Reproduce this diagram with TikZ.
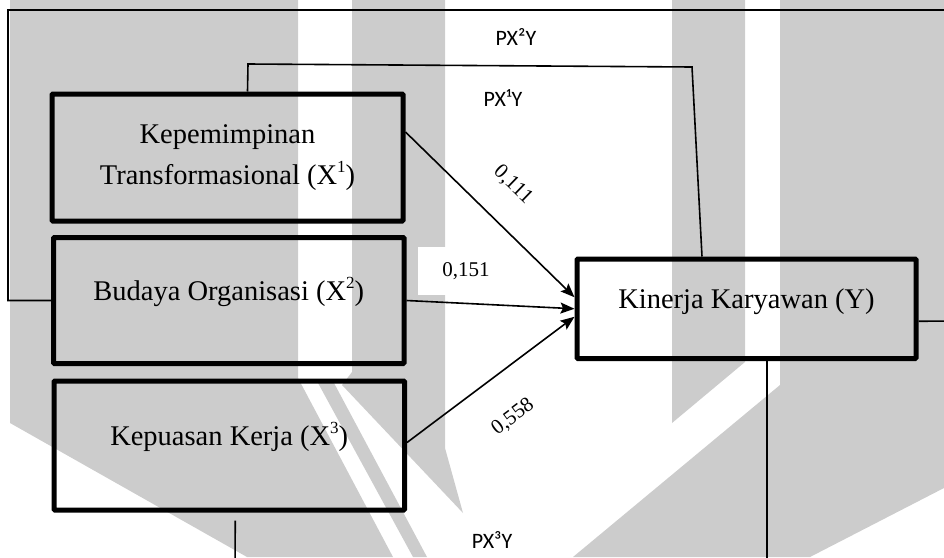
\documentclass[tikz,border=0pt]{standalone}
\usepackage{fontspec}
\setmainfont{Liberation Serif}
\newfontfamily\labelfont{Carlito}
\usepackage{tikz}
\usetikzlibrary{arrows.meta}
\definecolor{TandaAir}{RGB}{204,204,204}
\newcommand{\pangkat}[1]{\raisebox{0.42em}{\fontsize{17}{17}\selectfont #1}}

\begin{document}
\begin{tikzpicture}[x=1pt, y=-1pt,
	kotak/.style={rectangle, rounded corners=1pt, draw=black, line width=5pt,
		align=center, inner sep=0pt, font=\fontsize{28.5}{41}\selectfont},
	satu/.style={text height=20pt, text depth=20pt},
	panah/.style={-{Stealth[length=14pt, width=11pt, inset=2.5pt]}, line width=1.6pt},
	garis/.style={line width=1.6pt},
	koef/.style={font=\fontsize{21}{24}\selectfont, inner sep=1pt},
	jalur/.style={font=\labelfont\fontsize{22}{24}\selectfont, inner sep=1pt},
	tanda/.style={fill=TandaAir, draw=none}]

	\useasboundingbox (0,0) rectangle (944,557);
	\clip (0,0) rectangle (944,557);

	\fill[tanda] (10,0) -- (298,0) -- (298,378) -- (393,557) -- (247,557) -- (10,423) -- cycle;
	\fill[tanda] (318,383) -- (334,383) -- (427,557) -- (413,557) -- cycle;
	\fill[tanda] (352,0) -- (445,0) -- (445,448) -- (463,513) -- (342,385) -- (352,372) -- cycle;
	\fill[tanda] (672,0) -- (745,0) -- (745,362) -- (672,423) -- cycle;
	\fill[tanda] (780,0) -- (944,0) -- (944,488) -- (810,557) -- (573,557) -- (780,385) -- cycle;

	\node[kotak, minimum width=351pt, minimum height=127pt] (x1) at (227.5,157.5)
		{Kepemimpinan\\ Transformasional (X\pangkat{1})};
	\node[kotak, satu, minimum width=350.5pt, minimum height=126pt] (x2) at (228.75,300.5)
		{Budaya Organisasi (X\pangkat{2})};
	\node[kotak, satu, minimum width=350.5pt, minimum height=129pt] (x3) at (229.25,445.5)
		{Kepuasan Kerja (X\pangkat{3})};
	\node[kotak, satu, minimum width=339pt, minimum height=99.5pt] (kin) at (746.5,308.75)
		{Kinerja Karyawan (Y)};

	\coordinate (t1) at (248,64);
	\coordinate (t2) at (692,67);
	\coordinate (k1) at (8,300.5);
	\coordinate (k2) at (8,10);
	\coordinate (k3) at (960,10);
	\coordinate (k4) at (960,321);
	\coordinate (b1) at (235,580);
	\coordinate (b2) at (767,580);

	\draw[garis] ([xshift=20pt]x1.north) -- (t1) -- (t2) -- ([xshift=-44.5pt]kin.north);
	\draw[garis] (x2.west) -- (k1) -- (k2) -- (k3) -- (k4) -- ([yshift=-12.5pt]kin.east);
	\draw[garis] ([xshift=6pt,yshift=-8pt]x3.south) -- (b1) -- (b2) -- ([xshift=20.5pt]kin.south);

	\draw[panah] ([yshift=25.5pt]x1.east) -- ([yshift=11.5pt]kin.west);
	\draw[panah] (x2.east) -- (kin.west);
	\draw[panah] ([yshift=3pt]x3.east) -- ([yshift=-8pt]kin.west);

	\node[koef, rotate=-44] (c1) at (513,185) {0,111};
	\node[koef, fill=white, inner xsep=24pt, inner ysep=15pt] (c2) at (466,271) {0,151};
	\node[koef, rotate=37] (c3) at (513,417) {0,558};

	\node[jalur] (p1) at (503,98) {PX¹Y};
	\node[jalur] (p2) at (516,37) {PX²Y};
	\node[jalur, fill=white, inner xsep=21pt, inner ysep=18pt] (p3) at (492,540) {PX³Y};
\end{tikzpicture}
\end{document}
